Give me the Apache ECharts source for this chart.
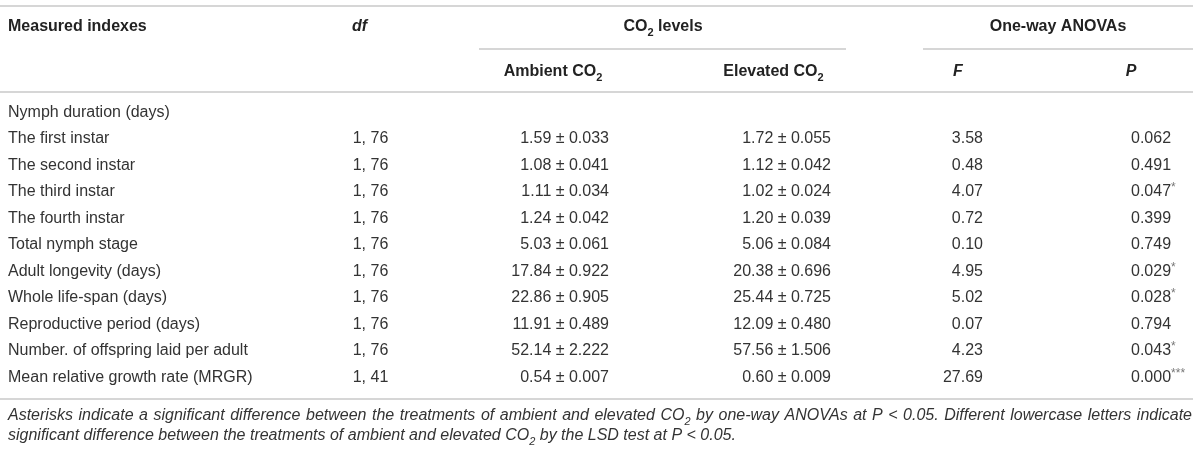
<!DOCTYPE html>
<html>
<head>
<meta charset="utf-8">
<script src="https://cdn.jsdelivr.net/npm/echarts@6/dist/echarts.min.js"></script>
<style>html,body{margin:0;padding:0;background:#fff}#c{width:1200px;height:451px}</style>
</head>
<body>
<div id="c"></div>
<script>
// ---- data ----
const rowLabels = ['Nymph duration (days)', 'The first instar', 'The second instar', 'The third instar',
  'The fourth instar', 'Total nymph stage', 'Adult longevity (days)', 'Whole life-span (days)',
  'Reproductive period (days)', 'Number. of offspring laid per adult', 'Mean relative growth rate (MRGR)'];
const dfValues = [null, '1, 76', '1, 76', '1, 76', '1, 76', '1, 76', '1, 76', '1, 76', '1, 76', '1, 76', '1, 41'];
const ambientMean = [null, 1.59, 1.08, 1.11, 1.24, 5.03, 17.84, 22.86, 11.91, 52.14, 0.54];
const ambientSE = [null, 0.033, 0.041, 0.034, 0.042, 0.061, 0.922, 0.905, 0.489, 2.222, 0.007];
const elevatedMean = [null, 1.72, 1.12, 1.02, 1.20, 5.06, 20.38, 25.44, 12.09, 57.56, 0.60];
const elevatedSE = [null, 0.055, 0.042, 0.024, 0.039, 0.084, 0.696, 0.725, 0.480, 1.506, 0.009];
const fValues = [null, 3.58, 0.48, 4.07, 0.72, 0.10, 4.95, 5.02, 0.07, 4.23, 27.69];
const pValues = [null, 0.062, 0.491, 0.047, 0.399, 0.749, 0.029, 0.028, 0.794, 0.043, 0.000];
const pStars = ['', '', '', '*', '', '', '*', '*', '', '*', '***'];
const headerTop = ['Measured indexes', 'df', 'CO2 levels', 'One-way ANOVAs'];
const headerSub = ['Ambient CO2', 'Elevated CO2', 'F', 'P'];
const footnote1 = 'Asterisks indicate a significant difference between the treatments of ambient and elevated CO2 by one-way ANOVAs at P < 0.05. Different lowercase letters indicate';
const footnote2 = 'significant difference between the treatments of ambient and elevated CO2 by the LSD test at P < 0.05.';

// ---- layout ----
const FONT = '"Liberation Sans", Arial, Helvetica, sans-serif';
const FS = 16;
const BODY = '#333';
const HEAD = '#222';
const RULE = '#c8c8c8';
const COL = { label: 8, df: 370.5, amb: 609, elev: 831, f: 983, p: 1131 };
const RIGHT_EDGE = 1193;

function sub(str, styleMain) {
  return str.split('CO2').map(s => s ? '{' + styleMain + '|' + s + '}' : '').join('{' + styleMain + '|CO}{sub|2}');
}

const chart = echarts.init(document.getElementById('c'), null, { renderer: 'canvas' });

function renderRow(params, api) {
  const i = params.dataIndex;
  const y = api.coord([0, i])[1];
  const px = c => api.coord([c, i])[0];
  const base = { fill: BODY, font: FS + 'px ' + FONT, textVerticalAlign: 'middle' };
  const kids = [{ type: 'text', x: px(COL.label), y: y, style: Object.assign({}, base, { text: rowLabels[i], textAlign: 'left' }) }];
  if (ambientMean[i] != null) {
    kids.push({ type: 'text', x: px(COL.df), y: y, style: Object.assign({}, base, { text: dfValues[i], textAlign: 'center' }) });
    kids.push({ type: 'text', x: px(COL.amb), y: y, style: Object.assign({}, base, { text: ambientMean[i].toFixed(2) + ' \u00b1 ' + ambientSE[i].toFixed(3), textAlign: 'right' }) });
    kids.push({ type: 'text', x: px(COL.elev), y: y, style: Object.assign({}, base, { text: elevatedMean[i].toFixed(2) + ' \u00b1 ' + elevatedSE[i].toFixed(3), textAlign: 'right' }) });
    kids.push({ type: 'text', x: px(COL.f), y: y, style: Object.assign({}, base, { text: fValues[i].toFixed(2), textAlign: 'right' }) });
    kids.push({ type: 'text', x: px(COL.p), y: y, style: {
      text: '{n|' + pValues[i].toFixed(3) + '}' + (pStars[i] ? '{s|' + pStars[i] + '}' : ''),
      textAlign: 'left', textVerticalAlign: 'middle',
      rich: {
        n: { fill: BODY, font: FS + 'px ' + FONT, lineHeight: 20 },
        s: { fill: '#777', font: '12px ' + FONT, lineHeight: 13, verticalAlign: 'top' }
      }
    } });
  }
  return { type: 'group', children: kids };
}

const headRich = {
  b: { fill: HEAD, font: 'bold ' + FS + 'px ' + FONT, lineHeight: 22 },
  bi: { fill: HEAD, font: 'italic bold ' + FS + 'px ' + FONT, lineHeight: 22 },
  sub: { fill: HEAD, font: 'bold 11px ' + FONT, lineHeight: 10, verticalAlign: 'bottom' }
};
function headText(txt, x, y, align, style) {
  return { type: 'text', x: x, y: y, silent: true, style: { text: sub(txt, style), textAlign: align, textVerticalAlign: 'middle', rich: headRich } };
}
function rule(x1, x2, y) {
  return { type: 'line', silent: true, shape: { x1: x1, y1: y, x2: x2, y2: y }, style: { stroke: RULE, lineWidth: 1.5 } };
}
const FOOT_FONT = 'italic 16px ' + FONT;
const FOOT_SUB_FONT = 'italic 11px ' + FONT;
const footRich = {
  t: { fill: BODY, font: FOOT_FONT, lineHeight: 22 },
  sub: { fill: BODY, font: FOOT_SUB_FONT, lineHeight: 10, verticalAlign: 'bottom' }
};

// justified footnote first line: measure words and spread them across the table width
const mctx = document.createElement('canvas').getContext('2d');
function wordWidth(w) {
  if (w.indexOf('CO2') >= 0) {
    const parts = w.split('CO2');
    mctx.font = FOOT_FONT;
    let width = mctx.measureText(parts.join('') + 'CO').width;
    mctx.font = FOOT_SUB_FONT;
    width += mctx.measureText('2').width;
    return width;
  }
  mctx.font = FOOT_FONT;
  return mctx.measureText(w).width;
}
function justifiedLine(text, x0, x1, y) {
  const words = text.split(' ');
  const widths = words.map(wordWidth);
  const total = widths.reduce((a, b) => a + b, 0);
  const gap = (x1 - x0 - total) / (words.length - 1);
  const els = [];
  let x = x0;
  words.forEach((w, k) => {
    els.push({ type: 'text', x: x, y: y, silent: true, style: { text: sub(w, 't'), textAlign: 'left', textVerticalAlign: 'middle', rich: footRich } });
    x += widths[k] + gap;
  });
  return els;
}

chart.setOption({
  animation: false,
  grid: { left: 0, right: 0, top: 99.25, height: 291.5 },
  xAxis: { type: 'value', min: 0, max: 1200, show: false },
  yAxis: { type: 'category', data: rowLabels, inverse: true, show: false },
  series: [{
    type: 'custom',
    renderItem: renderRow,
    data: rowLabels.map((l, i) => [0, i]),
    encode: { x: 0, y: 1 },
    silent: true
  }],
  graphic: [
    rule(0, RIGHT_EDGE, 6),
    headText(headerTop[0], COL.label, 27, 'left', 'b'),
    headText(headerTop[1], 352, 27, 'left', 'bi'),
    headText(headerTop[2], 663, 27, 'center', 'b'),
    headText(headerTop[3], 1058, 27, 'center', 'b'),
    rule(479, 846, 49),
    rule(923, RIGHT_EDGE, 49),
    headText(headerSub[0], 553, 72, 'center', 'b'),
    headText(headerSub[1], 773.5, 72, 'center', 'b'),
    headText(headerSub[2], 958, 72, 'center', 'bi'),
    headText(headerSub[3], 1131, 72, 'center', 'bi'),
    rule(0, RIGHT_EDGE, 92),
    rule(0, RIGHT_EDGE, 399)
  ].concat(justifiedLine(footnote1, COL.label, 1192, 416)).concat([
    { type: 'text', x: COL.label, y: 436, silent: true, style: { text: sub(footnote2, 't'), textAlign: 'left', textVerticalAlign: 'middle', rich: footRich } }
  ])
});
</script>
</body>
</html>
